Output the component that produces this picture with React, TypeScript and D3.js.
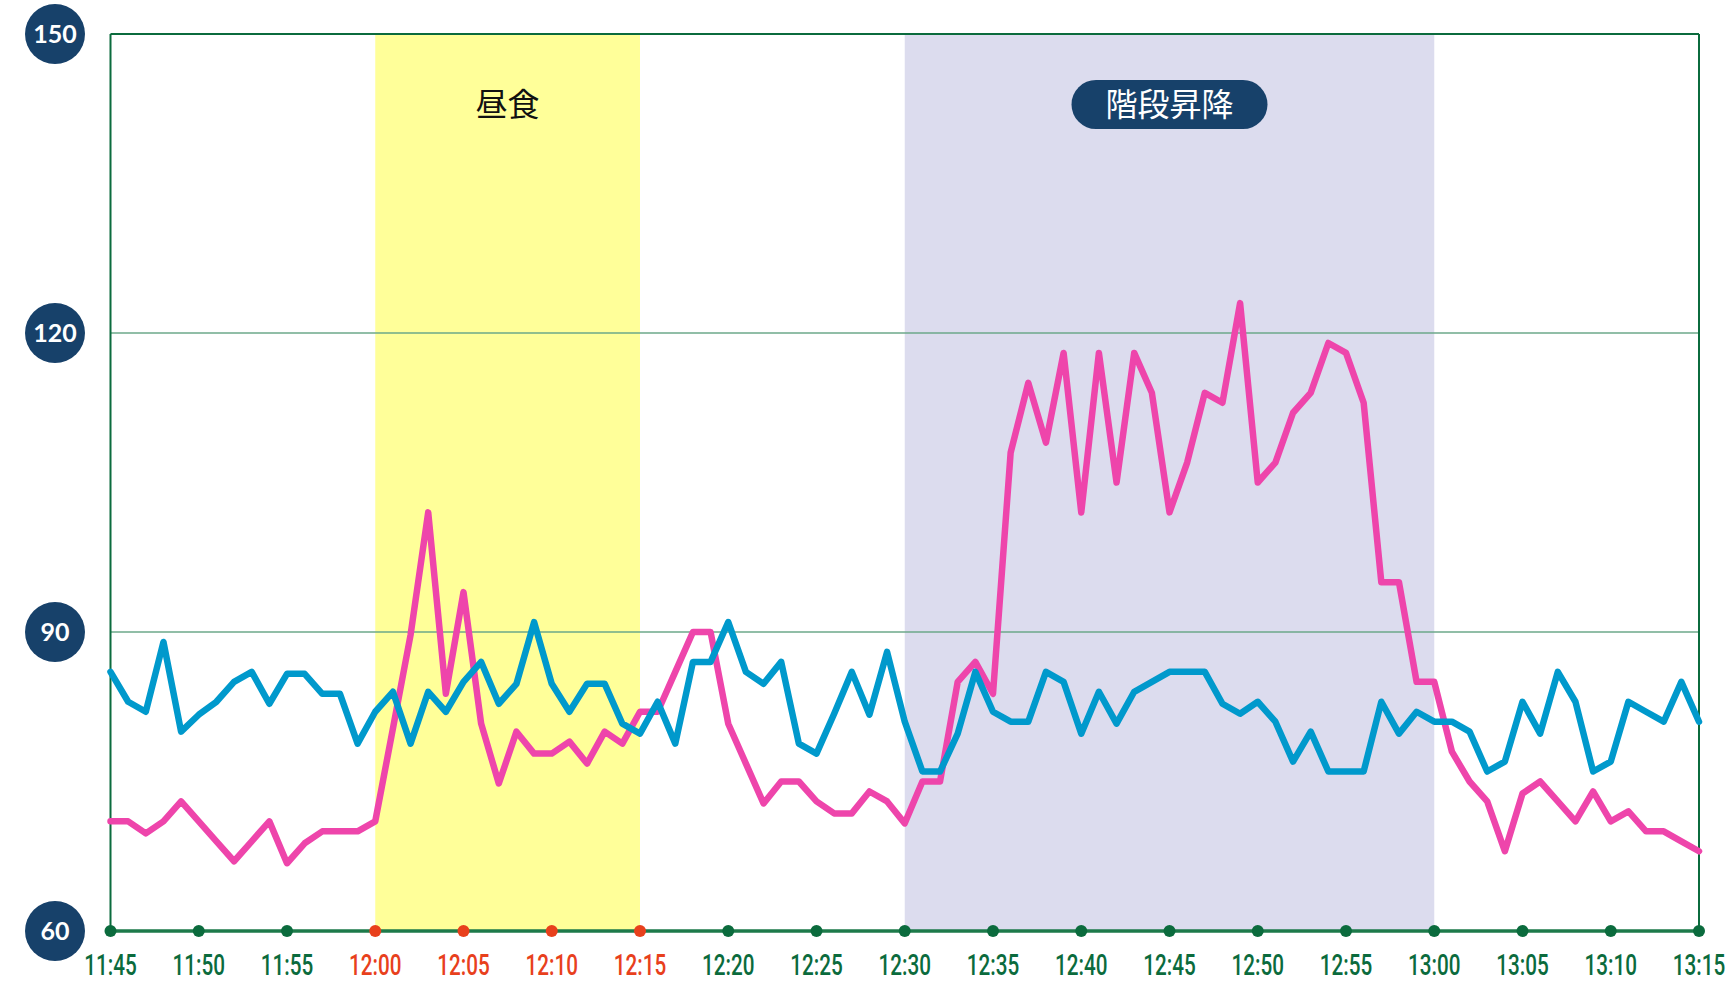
import React from "react";
import * as d3 from "d3";

// minutes since 11:45, one sample per minute
const pinkValues: number[] = [
  71, 71, 69.8, 71, 73, 71, 69, 67, 69, 71,
  66.8, 68.8, 70, 70, 70, 71, 80.3, 89.7, 102, 83.8,
  94, 80.8, 74.8, 80, 77.8, 77.8, 79, 76.8, 80, 78.8,
  82, 82, 86, 90, 90, 80.8, 76.8, 72.8, 75, 75,
  73, 71.8, 71.8, 74, 73, 70.8, 75, 75, 85, 87,
  83.8, 108, 115, 109, 118, 102, 118, 105, 118, 114,
  102, 107, 114, 113, 123, 105, 107, 112, 114, 119,
  118, 113, 95, 95, 85, 85, 78, 75, 73, 68,
  73.8, 75, 73, 71, 74, 71, 72, 70, 70, 69,
  68,
];

const blueValues: number[] = [
  86, 83, 82, 89, 80, 81.7, 83, 85, 86, 82.8,
  85.8, 85.8, 83.8, 83.8, 78.8, 82, 84, 78.8, 84, 82,
  85, 87, 82.8, 84.8, 91, 84.8, 82, 84.8, 84.8, 80.8,
  79.8, 83, 78.8, 87, 87, 91, 86, 84.8, 87, 78.8,
  77.8, 81.8, 86, 81.7, 88, 81, 76, 76, 79.8, 86,
  82, 81, 81, 86, 85, 79.8, 84, 80.8, 84, 85,
  86, 86, 86, 82.8, 81.8, 83, 81, 77, 80, 76,
  76, 76, 83, 79.8, 82, 81, 81, 80, 76, 77,
  83, 79.8, 86, 83, 76, 77, 83, 82, 81, 85,
  81,
];

const tickLabels: string[] = [
  "11:45", "11:50", "11:55", "12:00", "12:05", "12:10", "12:15", "12:20", "12:25", "12:30",
  "12:35", "12:40", "12:45", "12:50", "12:55", "13:00", "13:05", "13:10", "13:15",
];
const highlightTicks: string[] = ["12:00", "12:05", "12:10", "12:15"];
const yTicks: number[] = [60, 90, 120, 150];
const gridValues: number[] = [90, 120];

const bands = [
  { label: "昼食", start: 15, end: 30, kind: "lunch" },
  { label: "階段昇降", start: 45, end: 75, kind: "stairs" },
];

export default function App() {
  const W = 1732;
  const H = 983;
  const x = d3.scaleLinear().domain([0, 90]).range([110.5, 1699]);
  const y = d3.scaleLinear().domain([60, 150]).range([931, 34]);

  const line = d3
    .line<number>()
    .x((_, i) => x(i))
    .y((d) => y(d));

  const green = "#0b6b3d";
  const red = "#e8401c";
  const navy = "#17416a";

  return (
    <svg
      width={W}
      height={H}
      style={{ position: "absolute", left: 0, top: 0, background: "#fff" }}
    >
      {bands.map((b) => (
        <rect
          key={b.label}
          x={x(b.start)}
          y={y(150)}
          width={x(b.end) - x(b.start)}
          height={y(60) - y(150)}
          fill={b.kind === "lunch" ? "#ffff99" : "#dcdcee"}
        />
      ))}

      {gridValues.map((g) => (
        <line
          key={g}
          x1={x(0)}
          x2={x(90)}
          y1={y(g)}
          y2={y(g)}
          stroke="#6da88a"
          strokeWidth={1.3}
        />
      ))}

      {/* frame */}
      <line x1={x(0)} x2={x(90)} y1={y(150)} y2={y(150)} stroke={green} strokeWidth={2} />
      <line x1={x(0)} x2={x(0)} y1={y(150)} y2={y(60)} stroke={green} strokeWidth={2} />
      <line x1={x(90)} x2={x(90)} y1={y(150)} y2={y(60)} stroke={green} strokeWidth={2} />

      {/* band labels */}
      <text
        x={(x(15) + x(30)) / 2}
        y={116}
        textAnchor="middle"
        fontFamily="'Noto Sans CJK JP', sans-serif"
        fontSize={32}
        fill="#111"
      >
        昼食
      </text>
      <rect
        x={(x(45) + x(75)) / 2 - 98}
        y={80}
        width={196}
        height={49}
        rx={24.5}
        fill={navy}
      />
      <text
        x={(x(45) + x(75)) / 2}
        y={116}
        textAnchor="middle"
        fontFamily="'Noto Sans CJK JP', sans-serif"
        fontSize={32}
        fill="#fff"
      >
        階段昇降
      </text>

      {/* series */}
      <path
        d={line(pinkValues) || ""}
        fill="none"
        stroke="#ee45ab"
        strokeWidth={6.5}
        strokeLinejoin="round"
        strokeLinecap="round"
      />
      <path
        d={line(blueValues) || ""}
        fill="none"
        stroke="#0099cc"
        strokeWidth={6.5}
        strokeLinejoin="round"
        strokeLinecap="round"
      />

      {/* x axis */}
      <line x1={x(0)} x2={x(90)} y1={y(60)} y2={y(60)} stroke="#1d7a4a" strokeWidth={3.5} />
      {tickLabels.map((t, i) => {
        const col = highlightTicks.includes(t) ? red : green;
        return (
          <g key={t}>
            <circle cx={x(i * 5)} cy={y(60)} r={6} fill={col} />
            <g transform={`translate(${x(i * 5)},975) scale(0.69,1)`}>
              <text
                x={0}
                y={0}
                textAnchor="middle"
                fontFamily="Roboto, sans-serif"
                fontWeight={500}
                fontSize={30}
                fill={col}
              >
                {t}
              </text>
            </g>
          </g>
        );
      })}

      {/* y labels */}
      {yTicks.map((v) => (
        <g key={v}>
          <circle cx={55} cy={y(v)} r={30} fill={navy} />
          <text
            x={55}
            y={y(v) + 9}
            textAnchor="middle"
            fontFamily="Lato, sans-serif"
            fontWeight={700}
            fontSize={25}
            fill="#fff"
          >
            {v}
          </text>
        </g>
      ))}
    </svg>
  );
}
